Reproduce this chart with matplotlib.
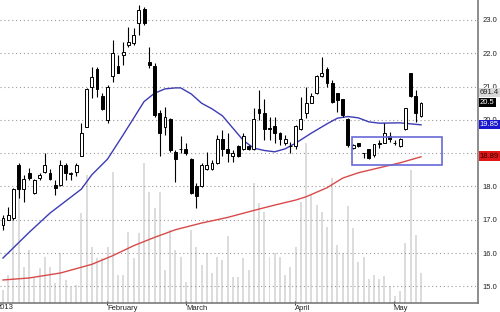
import matplotlib
matplotlib.use("Agg")
import matplotlib.pyplot as plt
from matplotlib.patches import Rectangle
import matplotlib.transforms as mtransforms

plt.rcParams["font.family"] = ["Liberation Sans", "DejaVu Sans"]

# daily candles, index 0 = first visible session
opens = [16.84, 16.99, 17.05, 18.65, 17.92, 18.41, 17.80, 18.26, 18.44, 18.41,
         18.05, 18.05, 18.65, 18.38, 18.44, 18.92, 19.80, 20.99, 21.53, 20.72,
         20.00, 21.32, 21.62, 21.95, 22.25, 22.30, 22.90, 23.33, 21.74, 21.62,
         20.20, 19.80, 20.03, 19.04, 19.13, 19.13, 18.83, 18.00, 18.00, 18.53,
         18.53, 18.71, 19.43, 19.13, 18.92, 19.22, 19.13, 19.22, 19.13, 20.33,
         20.20, 19.75, 19.82, 19.60, 19.31, 19.20, 19.22, 19.73, 20.21, 20.51,
         20.81, 21.32, 21.53, 21.11, 20.81, 20.63, 20.03, 19.16, 19.31, 19.00,
         19.13, 18.95, 19.28, 19.31, 19.52, 19.30, 19.22, 19.73, 21.41, 20.72,
         20.12]
highs = [17.14, 17.38, 17.95, 18.71, 18.35, 18.56, 18.23, 18.40, 19.00, 18.53,
         18.20, 18.80, 18.71, 18.44, 18.71, 19.90, 20.95, 21.59, 21.60, 20.80,
         21.05, 22.40, 21.95, 22.35, 22.80, 22.75, 23.45, 23.40, 22.20, 21.70,
         20.30, 20.40, 20.06, 19.10, 19.52, 19.30, 18.86, 18.10, 18.71, 19.04,
         18.80, 19.55, 19.70, 19.60, 19.10, 19.25, 19.60, 19.25, 20.36, 20.90,
         20.63, 20.09, 20.09, 19.64, 19.55, 19.34, 19.85, 20.69, 21.00, 20.81,
         21.35, 21.89, 21.59, 21.20, 20.81, 20.63, 20.06, 19.28, 19.31, 19.00,
         19.13, 19.28, 19.40, 19.90, 19.64, 19.40, 19.46, 20.36, 21.41, 20.90,
         20.54]
lows = [16.69, 16.99, 17.00, 17.65, 17.53, 18.20, 17.78, 18.20, 18.40, 18.20,
        17.75, 18.00, 18.20, 18.20, 18.30, 18.90, 19.80, 20.66, 20.70, 20.30,
        19.90, 21.14, 21.40, 21.65, 22.20, 22.25, 22.55, 22.85, 21.55, 20.10,
        18.90, 19.55, 19.04, 18.14, 19.00, 18.95, 17.77, 17.35, 17.97, 18.50,
        18.50, 18.68, 18.90, 18.74, 18.74, 18.89, 19.10, 19.10, 19.10, 20.00,
        19.40, 19.40, 19.30, 19.25, 19.25, 19.00, 19.12, 19.70, 20.06, 20.50,
        20.78, 21.29, 20.99, 20.50, 20.24, 20.09, 19.19, 19.12, 19.19, 18.86,
        18.83, 18.89, 19.16, 19.31, 19.34, 19.25, 19.19, 19.70, 20.69, 19.94,
        20.09]
closes = [17.05, 17.14, 17.92, 17.92, 18.22, 18.26, 18.20, 18.35, 18.65, 18.23,
          17.95, 18.65, 18.41, 18.40, 18.65, 19.60, 20.93, 21.29, 20.93, 20.33,
          21.00, 22.00, 21.41, 22.05, 22.34, 22.55, 23.30, 22.90, 21.65, 20.15,
          19.60, 20.10, 19.10, 18.83, 19.12, 19.00, 17.80, 17.70, 18.65, 18.65,
          18.71, 19.43, 19.13, 19.00, 19.00, 18.92, 19.52, 19.13, 20.03, 20.20,
          19.73, 19.73, 19.60, 19.43, 19.43, 19.22, 19.82, 20.03, 20.51, 20.72,
          21.32, 21.41, 21.11, 20.54, 20.60, 20.15, 19.25, 19.25, 19.22, 19.00,
          18.86, 19.28, 19.31, 19.61, 19.43, 19.31, 19.43, 20.36, 20.72, 20.21,
          20.50]
volumes = [13, 28, 85, 121, 36, 53, 25, 35, 46, 36,
           20, 50, 23, 16, 18, 90, 128, 56, 45, 45,
           56, 131, 28, 28, 71, 45, 70, 140, 111, 95,
           111, 33, 73, 53, 46, 21, 73, 56, 38, 50,
           30, 46, 43, 67, 26, 26, 45, 33, 120, 100,
           91, 46, 50, 46, 28, 36, 56, 101, 160, 108,
           98, 91, 76, 125, 58, 50, 97, 75, 41, 46,
           24, 28, 24, 27, 17, 7, 12, 60, 133, 68,
           30]

# moving averages at selected sessions
ma_fast_idx = [0, 5, 9, 15, 17, 20, 23, 25, 27, 29, 31, 33, 34, 36, 38, 40, 42,
               44, 46, 48, 50, 52, 54, 56, 59, 62, 64, 66, 68, 70, 72, 76, 80]
ma_fast = [15.85, 16.62, 17.20, 17.92, 18.35, 18.82, 19.55, 20.05, 20.55, 20.80,
           20.93, 20.96, 20.96, 20.78, 20.50, 20.33, 20.12, 19.75, 19.38, 19.15,
           19.08, 19.04, 19.13, 19.30, 19.60, 19.88, 20.05, 20.10, 20.06, 19.94,
           19.90, 19.91, 19.85]
ma_slow_idx = [0, 5, 11, 17, 21, 25, 29, 33, 38, 43, 49, 52, 56, 58, 62, 65,
               68, 72, 76, 80]
ma_slow = [15.19, 15.25, 15.40, 15.66, 15.92, 16.22, 16.47, 16.70, 16.90, 17.07,
           17.32, 17.44, 17.59, 17.69, 17.96, 18.25, 18.41, 18.56, 18.71, 18.89]

month_idx = [19.9, 35.0, 55.9, 74.8]
month_names = ["February", "March", "April", "May"]
y_ticks = [15.0, 16.0, 17.0, 18.0, 19.0, 20.0, 21.0, 22.0, 23.0]

box_x = (66.8, 84.0)
box_y = (18.65, 19.49)

fig = plt.figure(figsize=(5.0, 3.12), dpi=100)
ax = fig.add_axes([0.0, 0.029, 0.956, 0.971])
axv = ax.twinx()
axv.set_zorder(0)
ax.set_zorder(1)
ax.patch.set_visible(False)

n = len(closes)
xs = list(range(n))

# volume
axv.bar(xs, volumes, width=0.38, color="#dcdcdc", linewidth=0)
axv.set_ylim(0, 303)
axv.set_yticks([])
for s in axv.spines.values():
    s.set_visible(False)

# grid
for yv in y_ticks:
    ax.axhline(yv, color="#9a9a9a", lw=0.8, ls=(0, (1, 2.5)), zorder=0)

# moving averages
ax.plot(ma_slow_idx, ma_slow, color="#d84a4a", lw=1.0, zorder=2)
ax.plot(ma_fast_idx, ma_fast, color="#3c3cb4", lw=1.0, zorder=2)

# candles
w = 0.55
for i in xs:
    o, h, l, c = opens[i], highs[i], lows[i], closes[i]
    ax.vlines(i, l, h, color="black", lw=0.8, zorder=3)
    lo = min(o, c)
    ht = max(abs(c - o), 0.015)
    fc = "white" if c >= o else "black"
    ax.add_patch(Rectangle((i - w / 2, lo), w, ht, facecolor=fc,
                           edgecolor="black", lw=0.7, zorder=4))

ax.add_patch(Rectangle((box_x[0], box_y[0]), box_x[1] - box_x[0],
                       box_y[1] - box_y[0], fill=False,
                       edgecolor="#6868d8", lw=1.2, zorder=5))

ax.set_xlim(-0.574, 90.9)
ax.set_ylim(14.5, 23.6)

ax.spines["top"].set_visible(False)
ax.spines["left"].set_visible(False)
ax.spines["right"].set_color("#7a7a7a")
ax.spines["bottom"].set_color("#7a7a7a")
ax.spines["right"].set_linewidth(1.2)
ax.spines["bottom"].set_linewidth(1.2)

ax.yaxis.tick_right()
ax.set_yticks(y_ticks)
ax.set_yticklabels([f"{v:.1f}" for v in y_ticks], fontsize=5.5, color="#222222")
ax.tick_params(axis="y", length=0, pad=3)

ax.set_xticks(month_idx)
ax.set_xticklabels(month_names, fontsize=5.5, ha="left", color="#222222")
ax.tick_params(axis="x", length=3, width=0.8, direction="inout", pad=0,
               color="#444444")
trans = mtransforms.blended_transform_factory(ax.transData, ax.transAxes)
ax.text(-1.2, -0.004, "2013", transform=trans, fontsize=5.5, ha="left",
        va="top", color="#222222", clip_on=False)

# last value tags
tags = [(20.82, "691.4", "#d9d9d9", "#222222"),
        (20.52, "20.5", "black", "white"),
        (19.85, "19.85", "#1818d0", "white"),
        (18.91, "18.89", "#e01818", "#300000")]
for yv, txt, bg, fg in tags:
    ax.text(1.004, yv, txt, transform=mtransforms.blended_transform_factory(
        ax.transAxes, ax.transData), fontsize=5.5, color=fg, va="center",
        ha="left", clip_on=False,
        bbox=dict(boxstyle="square,pad=0.15", fc=bg, ec="none"))

fig.savefig("out.png", dpi=100)
